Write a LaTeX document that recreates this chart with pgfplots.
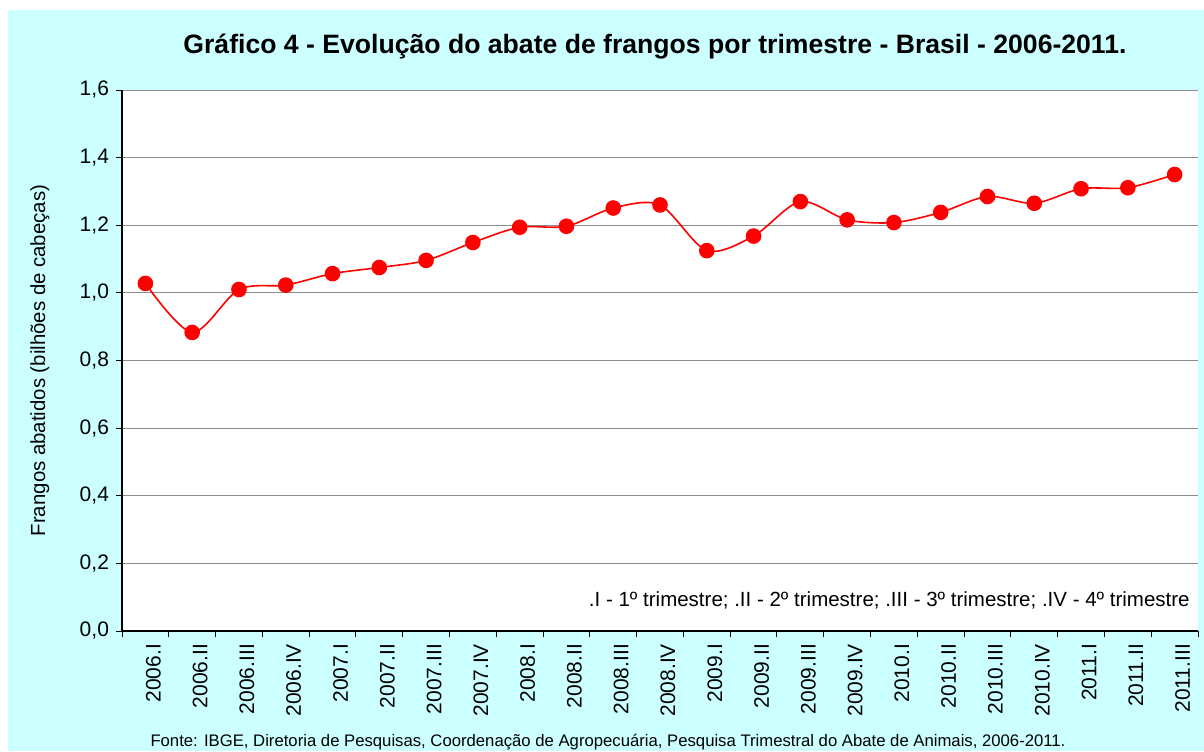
\documentclass[border=0pt]{standalone}
\usepackage{pgfplots}
\pgfplotsset{compat=1.18}
\usepackage{fontspec}
\setmainfont{Liberation Sans}
\definecolor{bgc}{RGB}{204,255,255}
\definecolor{gridc}{RGB}{140,140,140}
\begin{document}
\begin{tikzpicture}[x=0.5pt,y=0.5pt]
\clip (0,0) rectangle (1204,751);
\fill[white] (0,0) rectangle (1204,751);
\fill[bgc] (8,0) rectangle (1204,741);
\begin{axis}[
  at={(61pt,60pt)}, anchor=south west,
  scale only axis, width=538pt, height=270.5pt,
  xmin=-0.5, xmax=22.5, ymin=0, ymax=1.6,
  axis background/.style={fill=white},
  axis lines*=left,
  axis line style={black, line width=0.6pt},
  ytick={0,0.2,0.4,0.6,0.8,1.0,1.2,1.4,1.6},
  ymajorgrids, grid style={gridc, line width=0.5pt},
  tick align=outside,
  major tick length=3pt, minor tick length=3pt,
  tick style={black, line width=0.5pt},
  xtick={0,...,22},
  major x tick style={draw=none},
  minor xtick={-0.5,0.5,1.5,2.5,3.5,4.5,5.5,6.5,7.5,8.5,9.5,10.5,11.5,12.5,13.5,14.5,15.5,16.5,17.5,18.5,19.5,20.5,21.5,22.5},
  xticklabels={2006.I,2006.II,2006.III,2006.IV,2007.I,2007.II,2007.III,2007.IV,2008.I,2008.II,2008.III,2008.IV,2009.I,2009.II,2009.III,2009.IV,2010.I,2010.II,2010.III,2010.IV,2011.I,2011.II,2011.III},
  xticklabel style={rotate=90, anchor=east, font=\fontsize{10.5pt}{12pt}\selectfont, yshift=-4pt},
  yticklabel style={font=\fontsize{10.5pt}{12pt}\selectfont},
  /pgf/number format/.cd, fixed, fixed zerofill, precision=1, use comma, assume math mode=true,
  /pgfplots/.cd,
  ylabel={Frangos abatidos (bilhões de cabeças)},
  ylabel style={at={(axis description cs:-0.0762,0.5)}, anchor=center, font=\fontsize{10.2pt}{12pt}\selectfont},
  clip=false,
]
\addplot[red, line width=0.8pt, smooth, mark=*, mark size=3.5pt, mark options={fill=red, draw=red}] coordinates {
(0,1.028) (1,0.883) (2,1.010) (3,1.023) (4,1.057) (5,1.075) (6,1.096) (7,1.149)
(8,1.194) (9,1.197) (10,1.251) (11,1.260) (12,1.125) (13,1.168) (14,1.270) (15,1.216)
(16,1.208) (17,1.238) (18,1.285) (19,1.265) (20,1.308) (21,1.311) (22,1.350)
};
\end{axis}
\node[font=\bfseries\fontsize{13.3pt}{15pt}\selectfont] at (655,704) {Gráfico 4 - Evolução do abate de frangos por trimestre - Brasil - 2006-2011.};
\node[anchor=east, font=\fontsize{10.25pt}{12pt}\selectfont, inner sep=0pt] at (1190,151) {.I - 1º trimestre; .II - 2º trimestre; .III - 3º trimestre; .IV - 4º trimestre};
\node[anchor=base, font=\fontsize{8.35pt}{10pt}\selectfont, inner sep=0pt] at (608,5) {Fonte: IBGE, Diretoria de Pesquisas, Coordenação de Agropecuária, Pesquisa Trimestral do Abate de Animais, 2006-2011.};
\end{tikzpicture}
\end{document}
